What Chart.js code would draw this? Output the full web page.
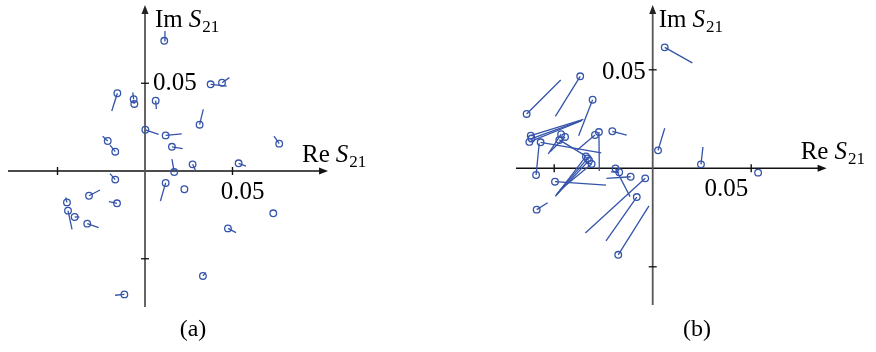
<!DOCTYPE html>
<html>
<head>
<meta charset="utf-8">
<script src="https://cdn.jsdelivr.net/npm/chart.js@4/dist/chart.umd.min.js"></script>
<style>
  body { margin: 0; background: #fff; }
  .panel { position: absolute; top: 0; width: 438px; height: 352px; }
</style>
</head>
<body>
<div class="panel" style="left:0"><canvas id="chartA" width="438" height="352"></canvas></div>
<div class="panel" style="left:438px"><canvas id="chartB" width="438" height="352"></canvas></div>
<script>
// panel (a): measured point (circle) and where its stem ends
const aReX  = [0.0110, 0.0375, 0.0440, -0.0158, -0.0065, -0.0061, 0.0061, 0.0312, 0.0002, 0.0118,
               -0.0213, -0.0170, 0.0767, 0.0154, 0.0167, 0.0272, 0.0535, -0.0170, 0.0118, 0.0225,
               -0.0320, -0.0160, -0.0446, -0.0440, -0.0402, 0.0733, -0.0330, 0.0474, 0.0331, -0.0118];
const aImY  = [0.0742, 0.0494, 0.0503, 0.0443, 0.0409, 0.0382, 0.0401, 0.0264, 0.0235, 0.0203,
               0.0171, 0.0110, 0.0156, 0.0138, -0.0006, 0.0038, 0.0044, -0.0049, -0.0068, -0.0104,
               -0.0141, -0.0184, -0.0179, -0.0226, -0.0262, -0.0241, -0.0300, -0.0327, -0.0598, -0.0703];
const aEndX = [0.0114, 0.0467, 0.0482, -0.0190, -0.0070, -0.0065, 0.0065, 0.0333, 0.0078, 0.0210,
               -0.0242, -0.0200, 0.0737, 0.0215, 0.0154, 0.0290, 0.0577, -0.0200, 0.0088, 0.0225,
               -0.0257, -0.0206, -0.0453, -0.0417, -0.0375, 0.0733, -0.0265, 0.0520, 0.0347, -0.0171];
const aEndY = [0.0798, 0.0484, 0.0532, 0.0342, 0.0448, 0.0403, 0.0353, 0.0351, 0.0209, 0.0211,
               0.0198, 0.0148, 0.0199, 0.0127, 0.0068, 0.0000, 0.0028, -0.0015, -0.0171, -0.0104,
               -0.0108, -0.0175, -0.0150, -0.0332, -0.0262, -0.0241, -0.0323, -0.0351, -0.0579, -0.0708];

// panel (b)
const bReX  = [0.0061, -0.0368, -0.0640, -0.0305, -0.0619, -0.0615, -0.0626, -0.0569, -0.0592, -0.0465,
               -0.0445, -0.0474, -0.0273, -0.0293, -0.0205, -0.0339, -0.0330, -0.0323, -0.0310, -0.0496,
               -0.0189, -0.0170, -0.0112, -0.0038, -0.0081, -0.0175, -0.0589, 0.0027, 0.0245, 0.0535];
const bImY  = [0.0614, 0.0467, 0.0276, 0.0348, 0.0166, 0.0151, 0.0134, 0.0132, -0.0034, 0.0173,
               0.0159, 0.0144, 0.0184, 0.0169, 0.0188, 0.0060, 0.0050, 0.0040, 0.0022, -0.0068,
               -0.0001, -0.0020, -0.0043, -0.0051, -0.0146, -0.0439, -0.0210, 0.0091, 0.0020, -0.0022];
const bEndX = [0.0201, -0.0494, -0.0467, -0.0376, -0.0352, -0.0359, -0.0364, -0.0261, -0.0576, -0.0530,
               -0.0521, -0.0339, -0.0271, -0.0383, -0.0132, -0.0494, -0.0486, -0.0491, -0.0471, -0.0237,
               -0.0115, -0.0212, -0.0235, -0.0342, -0.0237, -0.0019, -0.0533, 0.0061, 0.0255, 0.0535];
const bEndY = [0.0535, 0.0264, 0.0448, 0.0165, 0.0248, 0.0243, 0.0240, 0.0078, 0.0127, 0.0073,
               0.0084, 0.0062, -0.0014, 0.0093, 0.0168, -0.0143, -0.0130, -0.0138, -0.0110, -0.0085,
               -0.0144, -0.0018, -0.0051, -0.0328, -0.0369, -0.0191, -0.0175, 0.0203, 0.0108, -0.0022];

// axis ticks and labels
const tickVals = [-0.05, 0.05];
const tickLabel = '0.05';

const BLUE = 'rgb(52,84,170)';
const SERIF = '"Liberation Serif", "DejaVu Serif", serif';

function drawSLabel(ctx, x, base, word) {
  ctx.textAlign = 'left';
  ctx.textBaseline = 'alphabetic';
  ctx.font = '25px ' + SERIF;
  ctx.fillText(word, x, base);
  x += ctx.measureText(word).width + 6;
  ctx.font = 'italic 25px ' + SERIF;
  ctx.fillText('S', x, base);
  x += ctx.measureText('S').width + 1;
  ctx.font = '17px ' + SERIF;
  ctx.fillText('21', x, base + 5);
}

function arrow(ctx, x, y, dx, dy) {
  // filled arrowhead with tip at (x,y) pointing along (dx,dy)
  const L = 9, W = 3.5;
  ctx.beginPath();
  ctx.moveTo(x, y);
  ctx.lineTo(x - dx * L - dy * W, y - dy * L + dx * W);
  ctx.lineTo(x - dx * L + dy * W, y - dy * L - dx * W);
  ctx.closePath();
  ctx.fill();
}

const axesPlugin = {
  id: 'crossAxes',
  beforeDatasetsDraw(chart, args, o) {
    const ctx = chart.ctx, xs = chart.scales.x, ys = chart.scales.y;
    const x0 = xs.getPixelForValue(0), y0 = ys.getPixelForValue(0);
    const xl = xs.getPixelForValue(o.xFrom), xr = xs.getPixelForValue(o.xTo);
    const yt = ys.getPixelForValue(o.yTo), yb = ys.getPixelForValue(o.yFrom);
    ctx.save();
    // horizontal axis
    ctx.strokeStyle = '#111'; ctx.fillStyle = '#111'; ctx.lineWidth = 1.4;
    ctx.beginPath(); ctx.moveTo(xl, y0); ctx.lineTo(xr - 4, y0); ctx.stroke();
    arrow(ctx, xr, y0, 1, 0);
    tickVals.forEach(v => {
      const px = xs.getPixelForValue(v);
      ctx.beginPath(); ctx.moveTo(px, y0 - 4); ctx.lineTo(px, y0 + 4); ctx.stroke();
    });
    // vertical axis
    ctx.strokeStyle = '#555'; ctx.fillStyle = '#222'; ctx.lineWidth = 1.8;
    ctx.beginPath(); ctx.moveTo(x0, yb); ctx.lineTo(x0, yt + 4); ctx.stroke();
    arrow(ctx, x0, yt, 0, -1);
    ctx.strokeStyle = '#111'; ctx.lineWidth = 1.3;
    tickVals.forEach(v => {
      const py = ys.getPixelForValue(v);
      ctx.beginPath(); ctx.moveTo(x0 - 4, py); ctx.lineTo(x0 + 4, py); ctx.stroke();
    });
    // texts
    ctx.fillStyle = '#000';
    ctx.font = '25px ' + SERIF;
    const tx = xs.getPixelForValue(0.05), ty = ys.getPixelForValue(0.05);
    ctx.textBaseline = 'top';
    ctx.textAlign = o.xTickAlign;
    ctx.fillText(tickLabel, tx + o.xTickDx, y0 + 9);
    ctx.textBaseline = 'middle';
    ctx.textAlign = o.yTickAlign;
    ctx.fillText(tickLabel, x0 + o.yTickDx, ty + o.yTickDy);
    drawSLabel(ctx, xr - 26, y0 - 9, 'Re');
    drawSLabel(ctx, x0 + o.imDx, 27, 'Im');
    ctx.font = '24px ' + SERIF;
    ctx.textAlign = 'center';
    ctx.textBaseline = 'alphabetic';
    ctx.fillText(o.caption, o.capX, 336);
    ctx.restore();
  }
};

function makePanel(id, reX, imY, endX, endY, range, deco) {
  const datasets = [{
    data: reX.map((v, i) => ({ x: v, y: imY[i] })),
    showLine: false,
    pointStyle: 'circle',
    pointRadius: 3.3,
    pointBorderWidth: 1.3,
    pointBorderColor: BLUE,
    pointBackgroundColor: 'rgba(0,0,0,0)',
    order: 0
  }];
  reX.forEach((v, i) => {
    datasets.push({
      data: [{ x: v, y: imY[i] }, { x: endX[i], y: endY[i] }],
      showLine: true,
      borderColor: BLUE,
      borderWidth: 1.3,
      pointRadius: 0,
      order: 1
    });
  });
  return new Chart(document.getElementById(id), {
    type: 'scatter',
    data: { datasets },
    options: {
      responsive: false,
      animation: false,
      devicePixelRatio: 1,
      layout: { padding: 0, autoPadding: false },
      scales: {
        x: { type: 'linear', min: range.xMin, max: range.xMax, display: false },
        y: { type: 'linear', min: range.yMin, max: range.yMax, display: false }
      },
      plugins: { legend: { display: false }, tooltip: { enabled: false }, crossAxes: deco }
    },
    plugins: [axesPlugin]
  });
}

makePanel('chartA', aReX, aImY, aEndX, aEndY,
  { xMin: -0.08286, xMax: 0.16743, yMin: -0.10313, yMax: 0.09744 },
  { xFrom: -0.0783, xTo: 0.1046, yFrom: -0.0775, yTo: 0.0946,
    xTickAlign: 'center', xTickDx: 10, yTickAlign: 'left', yTickDx: 8, yTickDy: 0,
    imDx: 10, caption: '(a)', capX: 193 });

makePanel('chartB', bReX, bImY, bEndX, bEndY,
  { xMin: -0.10899, xMax: 0.11335, yMin: -0.09325, yMax: 0.08543 },
  { xFrom: -0.0694, xTo: 0.0883, yFrom: -0.0694, yTo: 0.0829,
    xTickAlign: 'right', xTickDx: -3, yTickAlign: 'right', yTickDx: -7, yTickDy: 3,
    imDx: 6, caption: '(b)', capX: 259 });
</script>
</body>
</html>
